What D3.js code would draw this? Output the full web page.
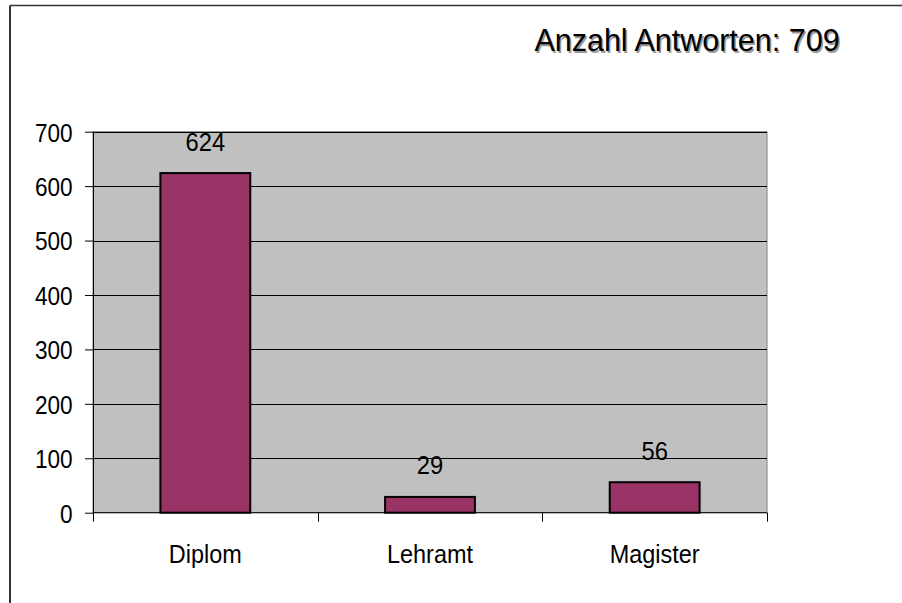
<!DOCTYPE html>
<html><head><meta charset="utf-8">
<script src="https://cdn.jsdelivr.net/npm/d3@7"></script>
<style>
html,body{margin:0;padding:0;background:#fff;}
svg{display:block;font-family:"Liberation Sans",Arial,sans-serif;}
</style></head>
<body>
<svg id="chart" width="902" height="603"></svg>
<script>
const categories = ["Diplom", "Lehramt", "Magister"];
const values = [624, 29, 56];
const yTicks = [0, 100, 200, 300, 400, 500, 600, 700];
const titleText = "Anzahl Antworten: 709";

const svg = d3.select("#chart");
const W = 902, H = 603;
const plot = {left: 93, top: 131.7, right: 767, bottom: 512.7};

// outer frame (top and left edges visible)
svg.append("line").attr("x1", 10).attr("y1", 5.5).attr("x2", W).attr("y2", 5.5)
  .attr("stroke", "#333").attr("stroke-width", 1.5);
svg.append("line").attr("x1", 10).attr("y1", 5.5).attr("x2", 10).attr("y2", H)
  .attr("stroke", "#333").attr("stroke-width", 2);

const x = d3.scaleBand().domain(categories).range([plot.left, plot.right]).paddingInner(0.6).paddingOuter(0.3);
const xOuter = d3.scaleBand().domain(categories).range([plot.left, plot.right]);
const y = d3.scaleLinear().domain([0, 700]).range([plot.bottom, plot.top]);

// plot background
svg.append("rect").attr("x", plot.left).attr("y", plot.top)
  .attr("width", plot.right - plot.left).attr("height", plot.bottom - plot.top)
  .attr("fill", "#c0c0c0").attr("stroke", "#808080").attr("stroke-width", 1);

// gridlines
svg.append("g").selectAll("line").data(yTicks.filter(d => d > 0)).join("line")
  .attr("x1", plot.left).attr("x2", plot.right)
  .attr("y1", d => Math.round(y(d)) + 0.5).attr("y2", d => Math.round(y(d)) + 0.5)
  .attr("stroke", "#000").attr("stroke-width", 1);

// bars
svg.append("g").selectAll("rect").data(values).join("rect")
  .attr("x", (d, i) => x(categories[i]))
  .attr("y", d => y(d))
  .attr("width", x.bandwidth())
  .attr("height", d => y(0) - y(d))
  .attr("fill", "#993366").attr("stroke", "#000").attr("stroke-width", 2);

// y axis
const ySx = 0.87;
const yAxis = d3.axisLeft(y).tickValues(yTicks).tickSize(8).tickPadding(12).tickFormat(d3.format("d"));
const gy = svg.append("g").attr("transform", `translate(${plot.left},0)`).call(yAxis);
gy.select(".domain").remove();
gy.selectAll(".tick line").attr("stroke", "#000");
gy.selectAll(".tick text").attr("font-size", 26).attr("fill", "#000")
  .attr("font-family", "'Liberation Sans',Arial,sans-serif")
  .attr("x", -20.3 / ySx).attr("dy", "0.36em")
  .attr("transform", `scale(${ySx},1)`);
svg.append("line").attr("x1", plot.left + 0.5).attr("x2", plot.left + 0.5)
  .attr("y1", plot.top).attr("y2", plot.bottom + 9).attr("stroke", "#000").attr("stroke-width", 1);

// x axis
svg.append("line").attr("x1", plot.left).attr("x2", plot.right)
  .attr("y1", plot.bottom).attr("y2", plot.bottom).attr("stroke", "#000").attr("stroke-width", 1);
const xTickPos = categories.map(c => xOuter(c)).concat([plot.right]);
svg.append("g").selectAll("line").data(xTickPos.slice(1)).join("line")
  .attr("x1", d => Math.round(d) + 0.5).attr("x2", d => Math.round(d) + 0.5)
  .attr("y1", plot.bottom).attr("y2", plot.bottom + 9).attr("stroke", "#000");
const xSx = 0.92;
svg.append("g").selectAll("text").data(categories).join("text")
  .attr("transform", d => `translate(${xOuter(d) + xOuter.bandwidth() / 2},563) scale(${xSx},1)`)
  .attr("text-anchor", "middle").attr("font-size", 25.5).attr("fill", "#000")
  .text(d => d);

// value labels
const vSx = 0.95;
svg.append("g").selectAll("text").data(values).join("text")
  .attr("transform", (d, i) => `translate(${x(categories[i]) + x.bandwidth() / 2},${y(d) - 22.5}) scale(${vSx},1)`)
  .attr("text-anchor", "middle").attr("font-size", 25).attr("fill", "#000")
  .text(d => d);

// title with shadow
svg.append("text").attr("x", 687).attr("y", 51).attr("text-anchor", "middle")
  .attr("font-size", 30.5).attr("fill", "#999").attr("transform", "translate(1.5,1.5)").text(titleText);
svg.append("text").attr("x", 687).attr("y", 51).attr("text-anchor", "middle")
  .attr("font-size", 30.5).attr("fill", "#000").text(titleText);
</script>
</body></html>
